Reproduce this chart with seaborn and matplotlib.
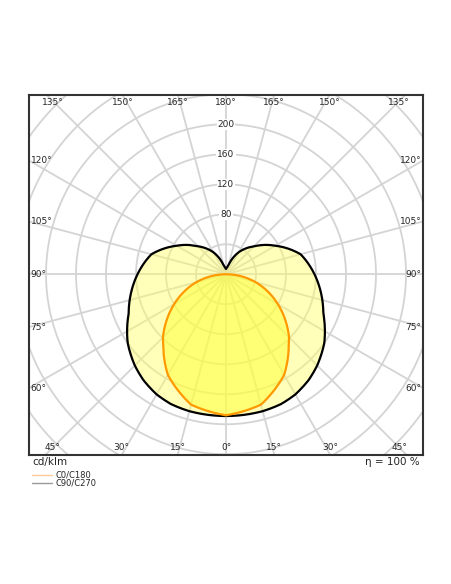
import numpy as np
import pandas as pd
import matplotlib.pyplot as plt
import seaborn as sns

# luminous intensity (cd/klm) vs angle from nadir, one half of each symmetric curve
c0_angles = [0, 15, 30, 42, 45, 60, 75, 90]
c0_values = [188, 180, 155, 125, 119, 80, 41, 0]
c90_angles = [0, 15, 23, 30, 38, 45, 55, 68, 86, 90, 105, 120, 134, 150, 165, 172, 180]
c90_values = [189, 189, 188, 185, 179, 172, 160, 140, 122, 118, 103, 76, 54, 34, 12, 9, 7]
ring_labels = [80, 120, 160, 200]

sns.set_style("white")
plt.rcParams['font.family'] = ['DejaVu Sans']

def to_xy(angles, values):
    # draw r(angle) along a fine angle grid so the outline follows the polar shape
    fine = np.linspace(0, angles[-1], 300)
    r = np.interp(fine, angles, values)
    a = np.radians(fine)
    ang = np.concatenate([a, -a[::-1]])
    rr = np.concatenate([r, r[::-1]])
    return pd.DataFrame({"x": rr * np.sin(ang), "y": -rr * np.cos(ang)})

fig = plt.figure(figsize=(4.52, 5.84), dpi=100)
ax = fig.add_axes([29 / 452, 1 - 455 / 584, 394 / 452, 360 / 584])
xmax, ytop, ybot = 262.7, 239, -241
ax.set_xlim(-xmax, xmax)
ax.set_ylim(ybot, ytop)

# grid
t = np.linspace(0, 2 * np.pi, 400)
for r in range(40, 400, 40):
    ax.plot(r * np.cos(t), r * np.sin(t), color="#d4d4d4", lw=1.3, zorder=1)
for deg in range(0, 360, 15):
    a = np.radians(deg)
    ax.plot([0, 400 * np.sin(a)], [0, -400 * np.cos(a)], color="#d4d4d4", lw=1.3, zorder=1)

c0 = to_xy(c0_angles, c0_values)
c90 = to_xy(c90_angles, c90_values)
ax.fill(c90["x"], c90["y"], color="#ffff66", alpha=0.45, lw=0, zorder=2)
ax.fill(c0["x"], c0["y"], color="#ffff33", alpha=0.5, lw=0, zorder=3)
sns.lineplot(data=c90, x="x", y="y", sort=False, estimator=None, color="black", lw=1.6, ax=ax, zorder=4)
sns.lineplot(data=c0, x="x", y="y", sort=False, estimator=None, color="#ff9900", lw=1.6, ax=ax, zorder=5)

# angle labels along the frame
fs = 6.5
for deg in range(-165, 181, 15):
    a = np.radians(deg)
    dx, dy = np.sin(a), -np.cos(a)
    lab = f"{180 - abs(deg) if False else abs(deg)}°"
    ts = []
    if abs(dx) > 1e-9:
        ts.append((xmax if dx > 0 else -xmax) / dx)
    if abs(dy) > 1e-9:
        ts.append((ytop if dy > 0 else ybot) / dy)
    tt = min(tp for tp in ts if tp > 0)
    px, py = tt * dx, tt * dy
    if abs(px) >= xmax - 1:
        ax.text(px - np.sign(px) * 2, py, lab, fontsize=fs, ha="right" if px > 0 else "left",
                va="center", zorder=6)
    else:
        px = np.clip(px, -xmax + 32, xmax - 32)
        ax.text(px, py - np.sign(py) * 10, lab, fontsize=fs, ha="center", va="center", zorder=6)
for v in ring_labels:
    ax.text(0, v, str(v), fontsize=fs, ha="center", va="center", zorder=6,
            bbox=dict(boxstyle="square,pad=0.1", fc="white", ec="none"))

ax.set_xticks([])
ax.set_yticks([])
ax.set_xlabel("")
ax.set_ylabel("")
for s in ax.spines.values():
    s.set_color("#333333")
    s.set_linewidth(1.5)

fig.text(32 / 452, 1 - 462 / 584, "cd/klm", fontsize=7.5, va="center")
fig.text(420 / 452, 1 - 462 / 584, "η = 100 %", fontsize=7.5, va="center", ha="right")
fig.add_artist(plt.Line2D([32 / 452, 52 / 452], [1 - 475 / 584] * 2, color="#ffcc99", lw=1))
fig.add_artist(plt.Line2D([32 / 452, 52 / 452], [1 - 483 / 584] * 2, color="#999999", lw=1))
fig.text(56 / 452, 1 - 475 / 584, "C0/C180", fontsize=6, va="center")
fig.text(56 / 452, 1 - 483 / 584, "C90/C270", fontsize=6, va="center")

fig.savefig("out.png", dpi=100)
